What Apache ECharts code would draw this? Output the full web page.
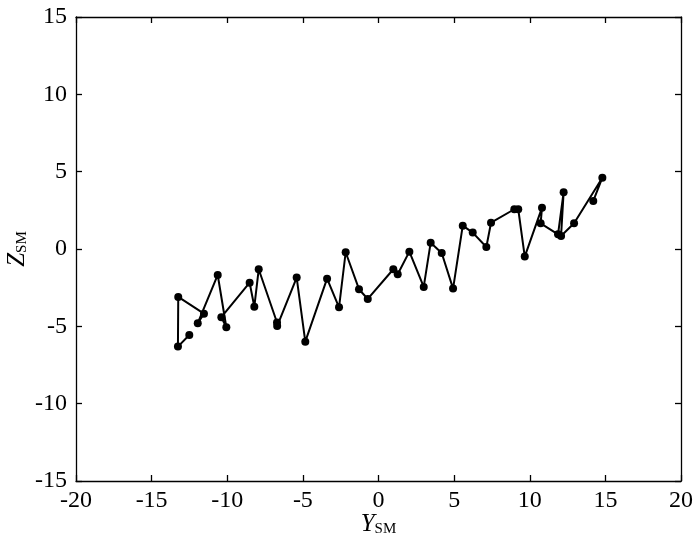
<!DOCTYPE html>
<html>
<head>
<meta charset="utf-8">
<script src="https://cdn.jsdelivr.net/npm/echarts@6/dist/echarts.min.js"></script>
<style>
  html, body { margin: 0; padding: 0; background: #fff; }
  #main { width: 700px; height: 553px; }
</style>
</head>
<body>
<div id="main"></div>
<script>
// trajectory points, in plotting order
var ysm = [-12.51, -13.26, -13.24, -11.54, -11.95, -10.63, -10.06, -10.39, -8.52, -8.21,
  -7.92, -6.71, -6.70, -5.41, -4.84, -3.40, -2.61, -2.17, -1.29, -0.71,
  0.98, 1.27, 2.04, 2.99, 3.45, 4.18, 4.93, 5.57, 6.23, 7.13,
  7.44, 8.98, 9.24, 9.67, 10.81, 10.72, 11.87, 12.24, 12.07, 12.93,
  14.80, 14.20];
var zsm = [-5.56, -6.31, -3.10, -4.18, -4.80, -1.68, -5.06, -4.41, -2.18, -3.73,
  -1.31, -4.75, -4.98, -1.85, -5.99, -1.92, -3.77, -0.21, -2.60, -3.23,
  -1.31, -1.63, -0.17, -2.45, 0.41, -0.26, -2.56, 1.51, 1.06, 0.13,
  1.70, 2.57, 2.57, -0.49, 2.67, 1.66, 0.95, 3.67, 0.84, 1.66,
  4.61, 3.11];

var pts = [];
for (var i = 0; i < ysm.length; i++) {
  pts.push([ysm[i], zsm[i]]);
}

var font = "'Liberation Serif', 'Times New Roman', serif";
var lineStyle = { color: "#000", width: 1.3 };

var chart = echarts.init(document.getElementById("main"));
var option = {
  backgroundColor: "#FFFFFF",
  animation: false,
  grid: { left: 76, right: 19, top: 17, bottom: 72, outerBoundsMode: "none", containLabel: false },
  xAxis: [
    {
      type: "value",
      min: -20, max: 20, interval: 5,
      position: "bottom",
      name: "{i|Y}{s|SM}",
      nameLocation: "middle",
      nameGap: 31,
      nameMoveOverlap: false,
      nameTextStyle: {
        rich: {
          i: { fontFamily: font, fontStyle: "italic", fontSize: 25, color: "#000" },
          s: { fontFamily: font, fontSize: 15, color: "#000", verticalAlign: "bottom", padding: [10, 0, 0, 0] }
        }
      },
      axisLine: { onZero: false, lineStyle: lineStyle },
      axisTick: { inside: true, length: 6, lineStyle: lineStyle },
      axisLabel: { fontFamily: font, fontSize: 24, color: "#000", margin: 8 },
      splitLine: { show: false }
    },
    {
      type: "value",
      min: -20, max: 20, interval: 5,
      position: "top",
      axisLine: { onZero: false, lineStyle: lineStyle },
      axisTick: { inside: true, length: 6, lineStyle: lineStyle },
      axisLabel: { show: false },
      splitLine: { show: false }
    }
  ],
  yAxis: [
    {
      type: "value",
      min: -15, max: 15, interval: 5,
      position: "left",
      name: "{i|Z}{s|SM}",
      nameLocation: "middle",
      nameGap: 46,
      nameMoveOverlap: false,
      nameRotate: 90,
      nameTextStyle: {
        rich: {
          i: { fontFamily: font, fontStyle: "italic", fontSize: 25, color: "#000" },
          s: { fontFamily: font, fontSize: 15, color: "#000", verticalAlign: "bottom", padding: [10, 0, 0, 0] }
        }
      },
      axisLine: { onZero: false, lineStyle: lineStyle },
      axisTick: { inside: true, length: 6, lineStyle: lineStyle },
      axisLabel: { fontFamily: font, fontSize: 24, color: "#000", margin: 9 },
      splitLine: { show: false }
    },
    {
      type: "value",
      min: -15, max: 15, interval: 5,
      position: "right",
      axisLine: { onZero: false, lineStyle: lineStyle },
      axisTick: { inside: true, length: 6, lineStyle: lineStyle },
      axisLabel: { show: false },
      splitLine: { show: false }
    }
  ],
  series: [
    {
      type: "line",
      xAxisIndex: 0,
      yAxisIndex: 0,
      data: pts,
      symbol: "circle",
      symbolSize: 8,
      showAllSymbol: true,
      itemStyle: { color: "#000" },
      lineStyle: { color: "#000", width: 2 }
    }
  ]
};
chart.setOption(option);
</script>
</body>
</html>
